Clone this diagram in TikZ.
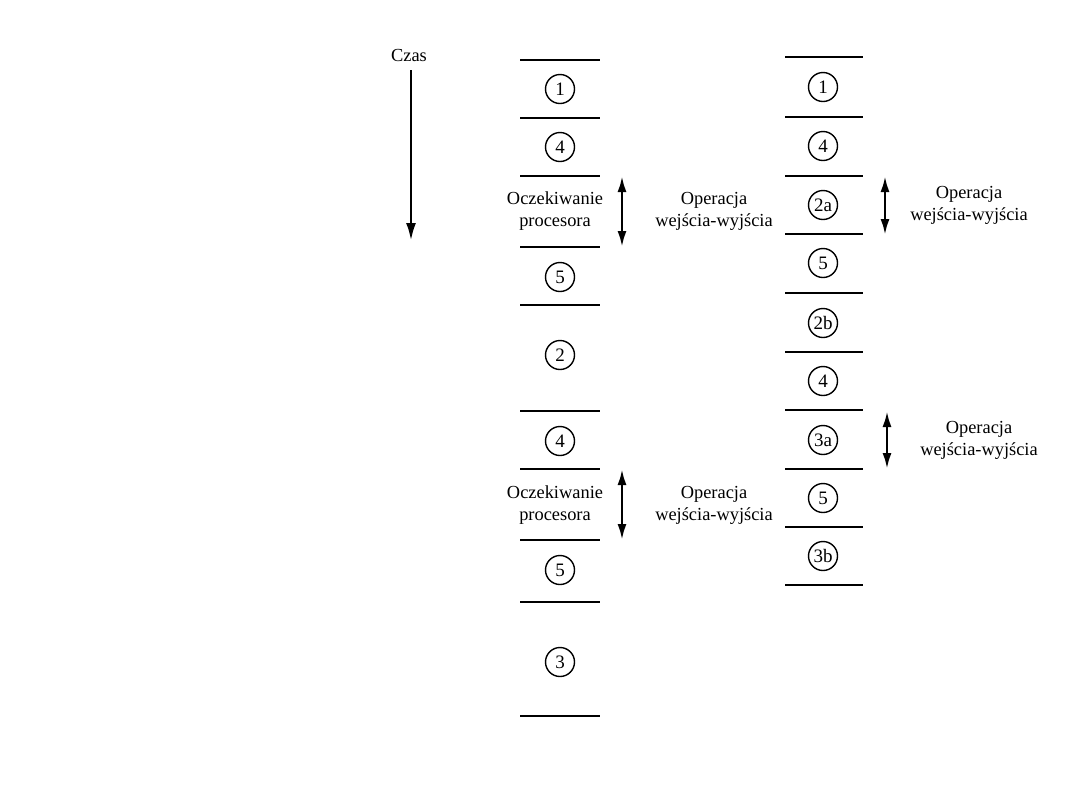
\documentclass[tikz,border=0pt]{standalone}
\usepackage{fontspec}
\setmainfont{Liberation Serif}
\usetikzlibrary{arrows.meta}
\tikzset{
  slot/.style={circle, draw, line width=0.7pt, minimum size=14.5pt, inner sep=0.5pt,
    font=\fontsize{9.5}{10}\selectfont},
  rule/.style={line width=1pt},
  io/.style={line width=1.3pt,
    {Latex[length=8pt,width=4.5pt]}-{Latex[length=8pt,width=4.5pt]}},
  note/.style={align=center, inner sep=0pt,
    font=\fontsize{9.2}{11}\selectfont}
}

\begin{document}
\begin{tikzpicture}[x=0.5pt, y=-0.5pt]
  \useasboundingbox (0,0) rectangle (1080,810);

  % ── time axis ─────────────────────────────────────────────────────
  \node[note] (czas) at (409,55) {Czas};
  \coordinate (t0) at (411,70);
  \coordinate (t1) at (411,241);
  \draw[line width=1.4pt, -{Latex[length=9pt,width=5pt]}] (t0) -- (t1);

  % ── left column: single program ──────────────────────────────────
  \foreach \y in {60,118,176,247,305,411,469,540,602,716}
    { \draw[rule] (520,\y) -- (600,\y); }

  \foreach \n/\y/\t in {L1/89/1, L2/147/4, L3/277/5, L4/355/2,
                        L5/441/4, L6/570/5, L7/662/3}
    { \node[slot] (\n) at (560,\y) {\t}; }

  \node[note] (wait1) at (555,211) {Oczekiwanie\\procesora};
  \node[note] (wait2) at (555,505) {Oczekiwanie\\procesora};

  \coordinate (la1) at (622,176);
  \coordinate (lb1) at (622,247);
  \coordinate (la2) at (622,469);
  \coordinate (lb2) at (622,540);
  \draw[io] (la1) -- (lb1);
  \draw[io] (la2) -- (lb2);

  \node[note] (opL1) at (714,211) {Operacja\\wejścia-wyjścia};
  \node[note] (opL2) at (714,505) {Operacja\\wejścia-wyjścia};

  % ── right column: split operations ───────────────────────────────
  \foreach \y in {57,117,176,234,293,352,410,469,527,585}
    { \draw[rule] (785,\y) -- (863,\y); }

  \foreach \n/\y/\t in {R1/87/1, R2/146/4, R3/205/2a, R4/263/5, R5/323/2b,
                        R6/381/4, R7/440/3a, R8/498/5, R9/556/3b}
    { \node[slot] (\n) at (823,\y) {\t}; }

  \coordinate (ra1) at (885,176);
  \coordinate (rb1) at (885,235);
  \coordinate (ra2) at (887,411);
  \coordinate (rb2) at (887,469);
  \draw[io] (ra1) -- (rb1);
  \draw[io] (ra2) -- (rb2);

  \node[note] (opR1) at (969,205) {Operacja\\wejścia-wyjścia};
  \node[note] (opR2) at (979,440) {Operacja\\wejścia-wyjścia};
\end{tikzpicture}
\end{document}
